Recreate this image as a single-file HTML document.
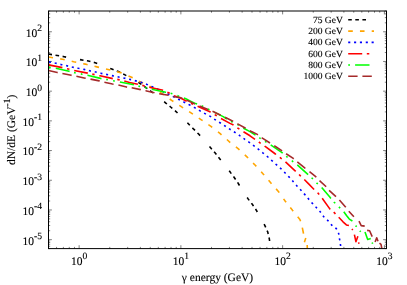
<!DOCTYPE html>
<html><head><meta charset="utf-8"><title>chart</title>
<style>
html,body{margin:0;padding:0;background:#fff;}
body{width:407px;height:285px;overflow:hidden;position:relative;}
svg{will-change:transform;}
svg text{font-family:"Liberation Serif",serif;fill:#000;stroke:#000;stroke-width:0.12px;text-rendering:geometricPrecision;}
</style></head><body>
<svg width="407" height="285" viewBox="0 0 407 285" style="position:absolute;left:0;top:0">
<rect width="407" height="285" fill="#fff"/>
<path d="M48.50 248.6 v-1.7 M48.50 11.0 v1.7 M56.56 248.6 v-1.7 M56.56 11.0 v1.7 M63.37 248.6 v-1.7 M63.37 11.0 v1.7 M69.27 248.6 v-1.7 M69.27 11.0 v1.7 M74.47 248.6 v-1.7 M74.47 11.0 v1.7 M79.13 248.6 v-3.4 M79.13 11.0 v3.4 M109.76 248.6 v-1.7 M109.76 11.0 v1.7 M127.68 248.6 v-1.7 M127.68 11.0 v1.7 M140.39 248.6 v-1.7 M140.39 11.0 v1.7 M150.25 248.6 v-1.7 M150.25 11.0 v1.7 M158.31 248.6 v-1.7 M158.31 11.0 v1.7 M165.12 248.6 v-1.7 M165.12 11.0 v1.7 M171.02 248.6 v-1.7 M171.02 11.0 v1.7 M176.22 248.6 v-1.7 M176.22 11.0 v1.7 M180.88 248.6 v-3.4 M180.88 11.0 v3.4 M211.51 248.6 v-1.7 M211.51 11.0 v1.7 M229.43 248.6 v-1.7 M229.43 11.0 v1.7 M242.14 248.6 v-1.7 M242.14 11.0 v1.7 M252.00 248.6 v-1.7 M252.00 11.0 v1.7 M260.06 248.6 v-1.7 M260.06 11.0 v1.7 M266.87 248.6 v-1.7 M266.87 11.0 v1.7 M272.77 248.6 v-1.7 M272.77 11.0 v1.7 M277.97 248.6 v-1.7 M277.97 11.0 v1.7 M282.63 248.6 v-3.4 M282.63 11.0 v3.4 M313.26 248.6 v-1.7 M313.26 11.0 v1.7 M331.18 248.6 v-1.7 M331.18 11.0 v1.7 M343.89 248.6 v-1.7 M343.89 11.0 v1.7 M353.75 248.6 v-1.7 M353.75 11.0 v1.7 M361.81 248.6 v-1.7 M361.81 11.0 v1.7 M368.62 248.6 v-1.7 M368.62 11.0 v1.7 M374.52 248.6 v-1.7 M374.52 11.0 v1.7 M379.72 248.6 v-1.7 M379.72 11.0 v1.7 M384.38 248.6 v-3.4 M384.38 11.0 v3.4 M48.5 248.60 h1.7 M386.5 248.60 h-1.7 M48.5 246.25 h1.7 M386.5 246.25 h-1.7 M48.5 244.26 h1.7 M386.5 244.26 h-1.7 M48.5 242.54 h1.7 M386.5 242.54 h-1.7 M48.5 241.02 h1.7 M386.5 241.02 h-1.7 M48.5 239.66 h3.4 M386.5 239.66 h-3.4 M48.5 230.72 h1.7 M386.5 230.72 h-1.7 M48.5 225.49 h1.7 M386.5 225.49 h-1.7 M48.5 221.78 h1.7 M386.5 221.78 h-1.7 M48.5 218.90 h1.7 M386.5 218.90 h-1.7 M48.5 216.55 h1.7 M386.5 216.55 h-1.7 M48.5 214.56 h1.7 M386.5 214.56 h-1.7 M48.5 212.84 h1.7 M386.5 212.84 h-1.7 M48.5 211.32 h1.7 M386.5 211.32 h-1.7 M48.5 209.96 h3.4 M386.5 209.96 h-3.4 M48.5 201.02 h1.7 M386.5 201.02 h-1.7 M48.5 195.79 h1.7 M386.5 195.79 h-1.7 M48.5 192.08 h1.7 M386.5 192.08 h-1.7 M48.5 189.20 h1.7 M386.5 189.20 h-1.7 M48.5 186.85 h1.7 M386.5 186.85 h-1.7 M48.5 184.86 h1.7 M386.5 184.86 h-1.7 M48.5 183.14 h1.7 M386.5 183.14 h-1.7 M48.5 181.62 h1.7 M386.5 181.62 h-1.7 M48.5 180.26 h3.4 M386.5 180.26 h-3.4 M48.5 171.32 h1.7 M386.5 171.32 h-1.7 M48.5 166.09 h1.7 M386.5 166.09 h-1.7 M48.5 162.38 h1.7 M386.5 162.38 h-1.7 M48.5 159.50 h1.7 M386.5 159.50 h-1.7 M48.5 157.15 h1.7 M386.5 157.15 h-1.7 M48.5 155.16 h1.7 M386.5 155.16 h-1.7 M48.5 153.44 h1.7 M386.5 153.44 h-1.7 M48.5 151.92 h1.7 M386.5 151.92 h-1.7 M48.5 150.56 h3.4 M386.5 150.56 h-3.4 M48.5 141.62 h1.7 M386.5 141.62 h-1.7 M48.5 136.39 h1.7 M386.5 136.39 h-1.7 M48.5 132.68 h1.7 M386.5 132.68 h-1.7 M48.5 129.80 h1.7 M386.5 129.80 h-1.7 M48.5 127.45 h1.7 M386.5 127.45 h-1.7 M48.5 125.46 h1.7 M386.5 125.46 h-1.7 M48.5 123.74 h1.7 M386.5 123.74 h-1.7 M48.5 122.22 h1.7 M386.5 122.22 h-1.7 M48.5 120.86 h3.4 M386.5 120.86 h-3.4 M48.5 111.92 h1.7 M386.5 111.92 h-1.7 M48.5 106.69 h1.7 M386.5 106.69 h-1.7 M48.5 102.98 h1.7 M386.5 102.98 h-1.7 M48.5 100.10 h1.7 M386.5 100.10 h-1.7 M48.5 97.75 h1.7 M386.5 97.75 h-1.7 M48.5 95.76 h1.7 M386.5 95.76 h-1.7 M48.5 94.04 h1.7 M386.5 94.04 h-1.7 M48.5 92.52 h1.7 M386.5 92.52 h-1.7 M48.5 91.16 h3.4 M386.5 91.16 h-3.4 M48.5 82.22 h1.7 M386.5 82.22 h-1.7 M48.5 76.99 h1.7 M386.5 76.99 h-1.7 M48.5 73.28 h1.7 M386.5 73.28 h-1.7 M48.5 70.40 h1.7 M386.5 70.40 h-1.7 M48.5 68.05 h1.7 M386.5 68.05 h-1.7 M48.5 66.06 h1.7 M386.5 66.06 h-1.7 M48.5 64.34 h1.7 M386.5 64.34 h-1.7 M48.5 62.82 h1.7 M386.5 62.82 h-1.7 M48.5 61.46 h3.4 M386.5 61.46 h-3.4 M48.5 52.52 h1.7 M386.5 52.52 h-1.7 M48.5 47.29 h1.7 M386.5 47.29 h-1.7 M48.5 43.58 h1.7 M386.5 43.58 h-1.7 M48.5 40.70 h1.7 M386.5 40.70 h-1.7 M48.5 38.35 h1.7 M386.5 38.35 h-1.7 M48.5 36.36 h1.7 M386.5 36.36 h-1.7 M48.5 34.64 h1.7 M386.5 34.64 h-1.7 M48.5 33.12 h1.7 M386.5 33.12 h-1.7 M48.5 31.76 h3.4 M386.5 31.76 h-3.4 M48.5 22.82 h1.7 M386.5 22.82 h-1.7 M48.5 17.59 h1.7 M386.5 17.59 h-1.7 M48.5 13.88 h1.7 M386.5 13.88 h-1.7 M48.5 11.00 h1.7 M386.5 11.00 h-1.7" stroke="#000" stroke-width="0.5" fill="none"/>
<defs><clipPath id="c"><rect x="48.5" y="11.0" width="338.0" height="237.6"/></clipPath></defs>
<g clip-path="url(#c)" fill="none" stroke-linejoin="round" stroke-width="1.6">
<path d="M48.5 54.0 L52.0 54.6 M55.5 55.2 L57.3 55.5 L59.1 55.8 M62.6 56.4 L64.1 56.7 L66.1 57.1 M80.0 59.6 L81.6 59.9 L83.5 60.2 M86.9 60.8 L88.4 61.0 L90.4 61.5 M93.8 62.4 L95.2 62.7 L97.2 63.4 M110.2 68.4 L111.8 69.0 L113.6 69.7 M116.8 70.9 L118.4 71.5 L120.0 72.3 M123.2 74.0 L125.0 74.9 L126.3 75.6 M138.4 82.4 L139.8 83.3 L141.4 84.4 M144.3 86.5 L145.7 87.4 L147.3 88.6 M150.1 90.7 L151.6 91.8 L153.0 92.9 M164.2 101.7 L165.5 102.8 L166.9 104.0 M169.6 106.2 L170.6 107.0 L172.3 108.4 M175.0 110.7 L176.3 111.8 L177.5 113.0 M187.4 122.7 L189.8 125.3 M192.4 127.9 L193.7 129.2 L195.0 130.4 M197.5 133.0 L198.8 134.2 L200.1 135.6 M209.5 146.5 L210.6 147.8 L211.8 149.2 M214.1 151.8 L215.0 152.8 L216.4 154.5 M218.5 157.2 L219.5 158.4 L220.7 159.9 M229.2 170.8 L230.2 172.1 L231.3 173.6 M233.5 176.5 L234.4 177.7 L235.6 179.5 M237.6 182.4 L238.6 184.0 L239.5 185.5 M247.2 197.5 L248.1 198.9 L249.2 200.4 M251.4 203.2 L252.3 204.3 L253.5 206.1 M255.5 209.0 L256.3 210.2 L257.3 212.0 M264.1 224.2 L264.9 225.7 L265.7 227.4 M267.1 230.6 L267.7 231.9 L268.2 234.0 M269.0 237.5 L269.3 238.7 L269.6 241.0" stroke="#000000"/>
<path d="M48.5 57.0 L53.0 57.7 M60.2 58.9 L62.4 59.2 L64.7 59.7 M71.7 61.3 L73.7 61.8 L76.2 62.3 M83.2 63.7 L85.3 64.1 L87.6 64.7 M94.5 66.3 L96.9 66.9 L99.0 67.4 M106.0 69.0 L108.0 69.5 L110.3 70.1 M117.0 71.7 L120.6 72.6 L121.6 73.0 M128.5 75.9 L131.0 77.0 L132.7 77.8 M139.0 81.1 L140.0 81.6 L143.1 83.1 M149.5 86.3 L151.6 87.3 L153.6 88.5 M159.8 92.3 L162.6 94.0 L163.7 94.8 M169.7 99.0 L171.6 100.3 L173.4 101.5 M179.3 105.3 L181.3 106.6 L183.1 107.8 M189.1 111.6 L191.4 113.1 L192.9 114.1 M198.8 118.1 L201.0 119.6 L202.6 120.7 M208.4 124.7 L210.6 126.2 L212.2 127.4 M218.0 131.9 L220.2 133.6 L221.5 134.8 M226.9 139.5 L230.0 142.3 L230.3 142.5 M235.9 146.9 L238.1 148.6 L239.5 149.9 M244.8 154.9 L246.7 156.6 L248.1 158.0 M253.1 163.1 L255.3 165.3 L256.3 166.4 M261.2 171.8 L262.9 173.7 L264.1 175.1 M268.6 180.3 L270.3 182.3 L271.5 183.7 M276.1 188.9 L278.4 191.5 L279.2 192.6 M283.6 198.9 L285.1 201.0 L286.1 202.3 M290.3 207.5 L292.5 210.3 L293.2 211.1 M297.7 216.8 L299.9 219.5 L300.6 221.3 M302.3 227.6 L303.0 231.0 L303.5 233.6 M305.8 238.0 L304.4 242.2 M307.2 245.0 L307.3 248.6" stroke="#FFA500"/>
<path d="M48.9 61.9 L51.0 62.3 M54.7 63.0 L55.8 63.2 L56.7 63.4 M60.4 64.4 L61.3 64.6 L62.4 64.8 M66.1 65.6 L66.9 65.8 L68.1 66.1 M71.8 67.0 L72.8 67.2 L73.8 67.4 M77.5 68.1 L78.4 68.3 L79.5 68.5 M83.3 69.2 L84.1 69.4 L85.3 69.7 M88.9 70.6 L89.7 70.8 L90.9 71.1 M94.7 71.8 L95.6 72.0 L96.7 72.3 M100.4 73.2 L100.5 73.2 L102.4 73.6 M106.1 74.4 L108.1 74.8 M111.9 75.6 L113.3 75.9 L113.9 76.0 M117.6 76.8 L119.6 77.2 M123.4 78.0 L125.4 78.4 M129.1 79.2 L131.0 79.6 L131.1 79.6 M134.8 80.6 L136.8 81.1 M140.5 82.1 L141.5 82.4 L142.5 82.8 M146.0 84.1 L146.9 84.4 L147.9 84.9 M151.4 86.4 L152.3 86.8 L153.3 87.3 M156.8 88.8 L158.7 89.7 M162.2 91.3 L164.0 92.2 M167.5 93.8 L168.5 94.2 L169.4 94.7 M172.8 96.4 L174.7 97.4 M178.1 99.1 L178.9 99.5 L179.9 100.0 M183.4 101.8 L184.3 102.3 L185.2 102.7 M188.6 104.4 L189.2 104.7 L190.5 105.4 M193.9 107.2 L194.6 107.6 L195.7 108.2 M199.0 110.2 L199.6 110.6 L200.8 111.2 M204.1 113.1 L205.0 113.6 L205.9 114.1 M209.3 115.9 L210.3 116.4 L211.1 116.9 M214.2 119.1 L215.0 119.6 L215.9 120.2 M219.1 122.2 L220.9 123.3 M224.1 125.4 L225.4 126.2 L225.8 126.5 M229.0 128.6 L230.0 129.3 L230.7 129.7 M233.9 131.7 L234.4 132.0 L235.6 132.8 M238.8 135.0 L239.7 135.6 L240.5 136.1 M243.5 138.4 L244.7 139.2 L245.2 139.5 M248.3 141.7 L249.2 142.3 L250.0 142.9 M253.0 145.2 L254.0 145.9 L254.7 146.4 M257.7 148.7 L258.5 149.3 L259.3 150.0 M262.3 152.4 L263.1 153.1 L263.9 153.7 M266.8 156.1 L267.9 157.0 L268.4 157.5 M271.2 160.0 L272.2 160.9 L272.8 161.4 M275.6 164.0 L276.6 164.9 L277.1 165.4 M280.0 167.9 L281.1 168.8 L281.5 169.2 M284.2 172.0 L285.2 173.0 L285.6 173.5 M288.3 176.2 L289.2 177.1 L289.7 177.7 M292.3 180.5 L293.1 181.5 L293.6 182.1 M296.1 185.0 L296.6 185.6 L297.5 186.5 M300.1 189.3 L300.8 190.0 L301.5 190.8 M304.0 193.6 L304.7 194.4 L305.4 195.2 M307.8 198.1 L308.4 198.8 L309.1 199.6 M311.6 202.5 L312.4 203.4 L313.0 204.0 M315.6 206.8 L316.5 207.7 L317.0 208.2 M319.5 211.1 L320.2 211.8 L320.8 212.6 M323.0 215.7 L323.8 216.8 L324.3 217.3 M327.1 219.9 L328.2 220.9 L328.5 221.3 M331.0 224.2 L332.0 225.4 L332.4 225.7 M335.4 227.9 L336.2 228.5 L336.7 229.4 M338.3 232.8 L338.7 233.6 L338.9 234.7 M339.4 238.3 L339.6 239.3 L339.8 240.3 M340.4 244.0 L340.5 244.9 L340.6 246.0" stroke="#0000FF"/>
<path d="M48.5 64.9 L62.4 67.6 L62.4 67.6 M67.0 68.7 L69.4 69.3 M74.2 70.5 L87.5 73.1 L87.8 73.2 M92.3 74.1 L94.6 74.6 M99.3 75.7 L100.0 75.8 L111.8 78.4 L112.8 78.6 M117.3 79.4 L118.4 79.6 L119.7 79.9 M124.3 81.1 L129.5 82.5 L137.9 84.2 M142.3 85.4 L144.7 86.0 M149.3 87.3 L163.1 90.3 L163.1 90.3 M167.4 92.2 L168.5 92.7 L169.7 93.3 M173.9 95.7 L180.0 97.8 L186.7 101.3 M191.0 103.2 L193.2 104.3 M197.6 106.3 L209.9 111.8 L210.6 112.2 M214.7 114.6 L215.8 115.2 L216.8 115.8 M221.0 118.5 L230.0 123.4 L233.0 124.8 L233.5 125.1 M237.4 127.8 L238.1 128.3 L239.4 129.1 M243.5 131.8 L250.0 135.8 L254.3 138.9 L255.0 139.4 M258.8 142.0 L259.6 142.6 L260.7 143.4 M264.7 146.0 L264.8 146.1 L275.4 154.0 L276.0 154.5 M279.8 157.3 L280.2 157.6 L281.7 158.8 M285.5 161.9 L295.1 170.8 L295.7 171.4 M299.1 174.5 L299.7 175.1 L300.8 176.2 M304.3 179.5 L308.4 183.6 L313.6 189.0 L314.1 189.5 M317.6 192.7 L318.3 193.4 L319.2 194.5 M322.2 198.3 L329.8 208.9 L330.3 209.3 M333.7 212.2 L335.0 213.4 L335.4 213.9 M338.7 217.3 L343.0 221.8 L346.4 224.9 L348.9 225.6 M351.9 229.0 L352.8 230.0 M354.4 234.6 L355.9 241.7 L357.9 236.2 M358.6 242.4 L359.0 243.8" stroke="#FF0000"/>
<path d="M49.0 67.4 L50.7 67.6 M55.8 68.3 L69.1 71.3 L69.6 71.4 M74.0 72.6 L75.0 72.8 L75.7 72.9 M80.8 73.9 L82.3 74.2 L82.5 74.2 M87.4 75.3 L87.5 75.3 L100.5 78.4 L101.5 78.6 M106.2 79.4 L107.9 79.8 M113.1 80.7 L114.7 81.0 L114.8 81.0 M119.9 82.0 L133.9 84.8 L133.9 84.8 M138.4 86.0 L140.0 86.5 L140.1 86.5 M145.2 87.6 L146.4 87.8 L146.9 87.9 M151.8 89.3 L165.6 92.3 L166.0 92.4 M170.6 93.3 L171.4 93.5 L172.4 93.8 M177.4 95.6 L177.9 95.8 L179.1 96.2 M183.9 98.1 L185.8 98.8 L190.0 100.9 L195.7 103.6 L197.1 104.1 M201.6 105.7 L202.0 105.9 L203.2 106.5 M207.9 109.0 L209.0 109.6 L209.5 109.8 M214.1 112.1 L223.2 116.6 L226.9 119.0 M230.9 121.4 L232.6 122.2 M237.4 124.4 L238.8 125.4 M243.3 128.1 L244.0 128.5 L250.0 131.6 L254.3 134.4 L255.5 135.2 M259.3 137.6 L259.5 137.8 L260.7 138.6 M265.0 141.4 L265.8 141.9 L266.5 142.3 M270.7 145.0 L271.0 145.2 L281.7 152.3 L282.7 153.2 M286.3 156.2 L286.7 156.6 L287.6 157.3 M291.8 160.7 L292.1 160.9 L293.2 161.8 M297.3 164.9 L307.3 173.9 L308.1 174.6 M311.6 177.7 L311.9 178.0 L312.9 179.0 M316.6 182.8 L316.8 183.1 L317.8 184.0 M321.7 187.5 L329.8 197.1 L330.9 198.4 M334.0 201.9 L334.2 202.2 L335.2 203.2 M338.9 206.9 L339.4 207.4 L340.2 208.1 M343.8 211.7 L346.5 215.5 L349.3 219.1 L352.4 221.0 M355.6 225.6 L356.6 226.7 M359.8 230.9 L360.7 231.8 M365.0 232.0 L367.7 239.4 L370.8 238.5 M372.2 242.5 L372.6 243.8" stroke="#00FF00"/>
<path d="M48.5 70.5 L57.3 72.5 L57.7 72.6 M62.4 73.5 L71.3 75.3 L71.6 75.4 M76.4 76.2 L85.3 78.2 L85.7 78.3 M90.5 79.1 L99.3 80.9 L99.7 81.0 M104.4 82.3 L112.5 84.0 L113.6 84.2 M118.4 85.0 L126.5 87.0 L127.1 87.1 M131.7 87.7 L140.6 89.6 L140.8 89.7 M145.5 90.8 L145.6 90.8 L154.3 92.7 L154.5 92.8 M159.2 93.7 L168.5 95.2 L168.6 95.2 M173.4 96.5 L180.0 97.6 L182.4 98.5 M186.9 100.1 L187.0 100.2 L195.1 104.1 M199.5 106.0 L205.0 108.2 L208.1 109.4 M212.5 111.2 L213.6 111.7 L220.7 115.2 M225.0 117.3 L230.0 119.7 L233.2 121.4 M237.4 123.7 L238.1 124.1 L244.7 127.8 L245.6 128.3 M249.9 130.7 L251.4 131.5 L257.3 134.4 L257.9 134.8 M261.7 137.6 L262.4 138.1 L269.2 142.5 L270.0 143.0 M274.3 145.7 L274.7 146.0 L281.7 150.6 L282.2 150.9 M286.1 153.7 L286.5 154.0 L292.9 158.2 L293.7 158.9 M297.3 161.9 L304.7 167.8 L305.4 168.3 M309.5 171.7 L315.1 176.1 L316.3 177.3 M319.5 180.6 L325.4 186.0 L326.1 186.8 M329.1 190.4 L335.7 196.3 L336.0 196.6 M339.4 200.0 L345.3 206.7 L345.8 207.3 M348.8 211.2 L353.9 216.8 M359.0 221.2 L361.2 225.6 L364.7 226.1 M367.1 230.4 L369.6 230.7 L372.2 236.6 M375.1 242.1 L376.7 237.7 L378.0 241.3 M379.5 243.1 L381.0 244.3 L381.9 248.6" stroke="#A52A2A"/>
</g>
<rect x="48.5" y="11.0" width="338.0" height="237.6" fill="none" stroke="#000" stroke-width="1"/>
<path d="M348.2 19.8 H374.0" stroke="#000000" stroke-width="1.6" stroke-dasharray="3.6 3.5 3.6 3.5 3.6 14.0" stroke-dashoffset="0" fill="none"/>
<text x="342.8" y="22.8" font-size="9.5" text-anchor="end">75 GeV</text>
<path d="M348.2 31.1 H374.0" stroke="#FFA500" stroke-width="1.6" stroke-dasharray="4.6 7.15" stroke-dashoffset="0" fill="none"/>
<text x="342.8" y="34.1" font-size="9.5" text-anchor="end">200 GeV</text>
<path d="M348.2 42.4 H374.0" stroke="#0000FF" stroke-width="1.6" stroke-dasharray="2.1 3.75" stroke-dashoffset="0" fill="none"/>
<text x="342.8" y="45.4" font-size="9.5" text-anchor="end">400 GeV</text>
<path d="M348.2 53.7 H374.0" stroke="#FF0000" stroke-width="1.6" stroke-dasharray="14 4.6 2.5 4.8" stroke-dashoffset="0" fill="none"/>
<text x="342.8" y="56.7" font-size="9.5" text-anchor="end">600 GeV</text>
<path d="M348.2 65.0 H374.0" stroke="#00FF00" stroke-width="1.6" stroke-dasharray="14.4 4.6 1.8 5.2 1.8 5.1" stroke-dashoffset="26.0" fill="none"/>
<text x="342.8" y="68.0" font-size="9.5" text-anchor="end">800 GeV</text>
<path d="M348.2 76.3 H374.0" stroke="#A52A2A" stroke-width="1.6" stroke-dasharray="9.4 4.8" stroke-dashoffset="0" fill="none"/>
<text x="342.8" y="79.3" font-size="9.5" text-anchor="end">1000 GeV</text>
<text x="79.1" y="264.8" font-size="11.5" text-anchor="middle">10<tspan dy="-5.5" font-size="9.6">0</tspan></text>
<text x="180.9" y="264.8" font-size="11.5" text-anchor="middle">10<tspan dy="-5.5" font-size="9.6">1</tspan></text>
<text x="282.6" y="264.8" font-size="11.5" text-anchor="middle">10<tspan dy="-5.5" font-size="9.6">2</tspan></text>
<text x="384.4" y="264.8" font-size="11.5" text-anchor="middle">10<tspan dy="-5.5" font-size="9.6">3</tspan></text>
<text x="42.1" y="244.5" font-size="11.5" text-anchor="end">10<tspan dy="-5.5" font-size="9.6">-5</tspan></text>
<text x="42.1" y="214.8" font-size="11.5" text-anchor="end">10<tspan dy="-5.5" font-size="9.6">-4</tspan></text>
<text x="42.1" y="185.1" font-size="11.5" text-anchor="end">10<tspan dy="-5.5" font-size="9.6">-3</tspan></text>
<text x="42.1" y="155.4" font-size="11.5" text-anchor="end">10<tspan dy="-5.5" font-size="9.6">-2</tspan></text>
<text x="42.1" y="125.7" font-size="11.5" text-anchor="end">10<tspan dy="-5.5" font-size="9.6">-1</tspan></text>
<text x="42.1" y="96.0" font-size="11.5" text-anchor="end">10<tspan dy="-5.5" font-size="9.6">0</tspan></text>
<text x="42.1" y="66.3" font-size="11.5" text-anchor="end">10<tspan dy="-5.5" font-size="9.6">1</tspan></text>
<text x="42.1" y="36.6" font-size="11.5" text-anchor="end">10<tspan dy="-5.5" font-size="9.6">2</tspan></text>
<text x="217.5" y="280.8" font-size="11.5" text-anchor="middle">γ energy (GeV)</text>
<text transform="translate(15.3,129.8) rotate(-90)" font-size="11.5" text-anchor="middle">dN/dE (GeV<tspan dy="-5.2" font-size="9.6">-1</tspan><tspan dy="5.2" font-size="11.5">)</tspan></text>
</svg>
</body></html>
